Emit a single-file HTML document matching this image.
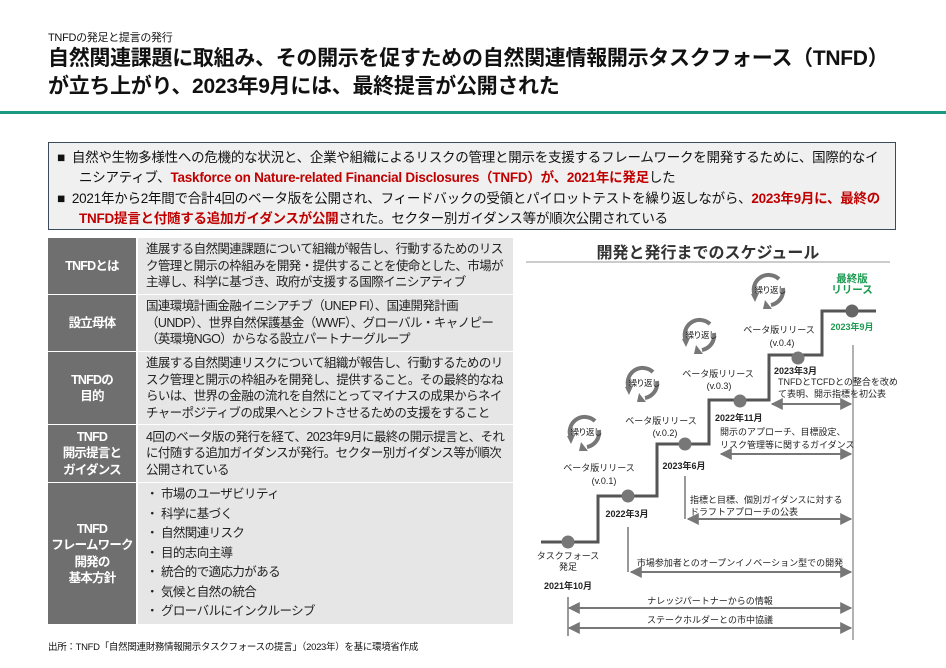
<!DOCTYPE html>
<html><head><meta charset="utf-8"><style>
*{margin:0;padding:0;box-sizing:border-box}
body{width:946px;height:668px;background:#fff;font-family:"Liberation Sans","Noto Sans CJK JP",sans-serif;color:#111;position:relative;overflow:hidden}
.abs{position:absolute}
.sub{left:48px;top:29px;font-size:11px;letter-spacing:-0.3px}
.h1{left:48px;top:45px;font-size:21px;font-weight:bold;line-height:28px;letter-spacing:-0.3px}
.rule{left:0;top:111px;width:946px;height:3px;background:#1a9a82}
.box{left:48px;top:142px;width:848px;height:88px;background:#f0f0f0;border:1.5px solid #3c4b5c;padding:5px 8px 0 8px;font-size:13.5px;line-height:19.5px;letter-spacing:-0.25px}
.box p{padding-left:22px;text-indent:-22px;margin-bottom:2px}
.red{color:#c00000;font-weight:bold}
table{position:absolute;left:48px;top:237px;width:465px;border-collapse:separate;border-spacing:0 1.5px;font-size:12.5px;line-height:16.5px;letter-spacing:-0.6px}
td{vertical-align:middle}
td.l{width:90px;background:#6f6f6f;color:#fff;font-weight:bold;text-align:center;font-size:12.5px;border-right:2px solid #fff;letter-spacing:-0.8px;white-space:nowrap}
td.r{background:#e6e6e6;padding:1px 6px 1px 8px;color:#222}
ul{list-style:none}
ul li{line-height:19.5px}
ul li:before{content:"・";display:inline-block;width:15px}
.foot{left:48px;top:639px;font-size:9.5px;letter-spacing:-0.3px}
</style></head><body>
<div class="abs sub">TNFDの発足と提言の発行</div>
<div class="abs h1">自然関連課題に取組み、その開示を促すための自然関連情報開示タスクフォース（TNFD）<br>が立ち上がり、2023年9月には、最終提言が公開された</div>
<div class="abs rule"></div>
<div class="abs box">
<p>■&nbsp;&nbsp;自然や生物多様性への危機的な状況と、企業や組織によるリスクの管理と開示を支援するフレームワークを開発するために、国際的なイニシアティブ、<span class="red">Taskforce on Nature-related Financial Disclosures（TNFD）が、2021年に発足</span>した</p>
<p>■&nbsp;&nbsp;2021年から2年間で合計4回のベータ版を公開され、フィードバックの受領とパイロットテストを繰り返しながら、<span class="red">2023年9月に、最終のTNFD提言と付随する追加ガイダンスが公開</span>された。セクター別ガイダンス等が順次公開されている</p>
</div>
<table>
<tr style="height:56px"><td class="l">TNFDとは</td><td class="r">進展する自然関連課題について組織が報告し、行動するためのリスク管理と開示の枠組みを開発・提供することを使命とした、市場が主導し、科学に基づき、政府が支援する国際イニシアティブ</td></tr>
<tr style="height:56px"><td class="l">設立母体</td><td class="r">国連環境計画金融イニシアチブ（UNEP FI）、国連開発計画（UNDP）、世界自然保護基金（WWF）、グローバル・キャノピー（英環境NGO）からなる設立パートナーグループ</td></tr>
<tr style="height:72px"><td class="l">TNFDの<br>目的</td><td class="r">進展する自然関連リスクについて組織が報告し、行動するためのリスク管理と開示の枠組みを開発し、提供すること。その最終的なねらいは、世界の金融の流れを自然にとってマイナスの成果からネイチャーポジティブの成果へとシフトさせるための支援をすること</td></tr>
<tr style="height:57px"><td class="l">TNFD<br>開示提言と<br>ガイダンス</td><td class="r">4回のベータ版の発行を経て、2023年9月に最終の開示提言と、それに付随する追加ガイダンスが発行。セクター別ガイダンス等が順次公開されている</td></tr>
<tr style="height:141px"><td class="l">TNFD<br>フレームワーク<br>開発の<br>基本方針</td><td class="r"><ul><li>市場のユーザビリティ</li><li>科学に基づく</li><li>自然関連リスク</li><li>目的志向主導</li><li>統合的で適応力がある</li><li>気候と自然の統合</li><li>グローバルにインクルーシブ</li></ul></td></tr>
</table>
<div class="abs foot">出所：TNFD「自然関連財務情報開示タスクフォースの提言」（2023年）を基に環境省作成</div>

<svg class="abs" style="left:0;top:0" width="946" height="668" font-family="Liberation Sans, Noto Sans CJK JP, sans-serif">
<defs>
<marker id="a" viewBox="0 0 10 10" refX="9" refY="5" markerWidth="6" markerHeight="6" orient="auto-start-reverse"><path d="M0,0L10,5L0,10z" fill="#777"/></marker>
<g id="cyc"><path d="M-14,6 A15,15 0 0 1 10,-11" fill="none" stroke="#777" stroke-width="4"/><path d="M14,-2 A15,15 0 0 1 2,15" fill="none" stroke="#777" stroke-width="4"/><path d="M-4,10 L3,19 L-6,19z" fill="#777"/><path d="M-18,4 L-10,3 L-14,12z" fill="#777"/></g>
</defs>
<text x="708" y="258" font-size="16" font-weight="bold" text-anchor="middle" fill="#333">開発と発行までのスケジュール</text>
<line x1="526" y1="262" x2="890" y2="262" stroke="#999" stroke-width="1"/>
<polyline points="541,542 598,542 598,496 657,496 657,444 709,444 709,400 769,400 769,355 822,355 822,311 876,311" fill="none" stroke="#555" stroke-width="3"/>
<g fill="#777"><circle cx="568" cy="542" r="6.5"/><circle cx="628" cy="496" r="6.5"/><circle cx="685" cy="444" r="6.5"/><circle cx="740" cy="401" r="6.5"/><circle cx="798" cy="358" r="6.5"/><circle cx="852" cy="311" r="6.5" fill="#666"/></g>
<line x1="853" y1="345" x2="853" y2="640" stroke="#666" stroke-width="1"/>
<g stroke="#777" stroke-width="2" marker-start="url(#a)" marker-end="url(#a)">
<line x1="772" y1="404" x2="851" y2="404"/>
<line x1="721" y1="454" x2="851" y2="454"/>
<line x1="688" y1="519" x2="851" y2="519"/>
<line x1="631" y1="572" x2="851" y2="572"/>
<line x1="569" y1="608" x2="851" y2="608"/>
<line x1="569" y1="628" x2="851" y2="628"/>
</g>
<g stroke="#777" stroke-width="1.5"><line x1="685" y1="476" x2="685" y2="519"/><line x1="628" y1="527" x2="628" y2="572"/><line x1="568" y1="597" x2="568" y2="636"/></g>
<use href="#cyc" x="585" y="432"/><use href="#cyc" x="643" y="383"/><use href="#cyc" x="700" y="335"/><use href="#cyc" x="769" y="290"/>
<g font-size="9" text-anchor="middle" fill="#222">
<g font-size="8.5" letter-spacing="-0.8"><text x="586" y="435">繰り返し</text><text x="644" y="386">繰り返し</text><text x="701" y="338">繰り返し</text><text x="770" y="293">繰り返し</text></g>
<text x="568" y="559">タスクフォース</text><text x="568" y="570">発足</text>
<text x="568" y="589" font-weight="bold">2021年10月</text>
<text x="627" y="517" font-weight="bold">2022年3月</text>
<text x="599" y="471">ベータ版リリース</text><text x="604" y="484">(v.0.1)</text>
<text x="684" y="469" font-weight="bold">2023年6月</text>
<text x="661" y="424">ベータ版リリース</text><text x="665" y="436">(v.0.2)</text>
<text x="718" y="377">ベータ版リリース</text><text x="719" y="389">(v.0.3)</text>
<text x="779" y="333">ベータ版リリース</text><text x="782" y="346">(v.0.4)</text>
<text x="852" y="282" font-size="10.5" font-weight="bold" fill="#1a9a50">最終版</text><text x="852" y="293" font-size="10.5" font-weight="bold" fill="#1a9a50">リリース</text>
<text x="852" y="330" font-weight="bold" fill="#1a9a50">2023年9月</text>
<text x="740" y="566">市場参加者とのオープンイノベーション型での開発</text>
<text x="710" y="604">ナレッジパートナーからの情報</text>
<text x="710" y="623">ステークホルダーとの市中協議</text>
</g>
<g font-size="9" fill="#222">
<text x="715" y="421" font-weight="bold">2022年11月</text>
<text x="720" y="435">開示のアプローチ、目標設定、</text>
<text x="720" y="448">リスク管理等に関するガイダンス</text>
<text x="774" y="374" font-weight="bold">2023年3月</text>
<text x="778" y="385">TNFDとTCFDとの整合を改め</text>
<text x="778" y="397">て表明、開示指標を初公表</text>
<text x="690" y="503">指標と目標、個別ガイダンスに対する</text>
<text x="690" y="515">ドラフトアプローチの公表</text>
</g>
</svg>
</body></html>
